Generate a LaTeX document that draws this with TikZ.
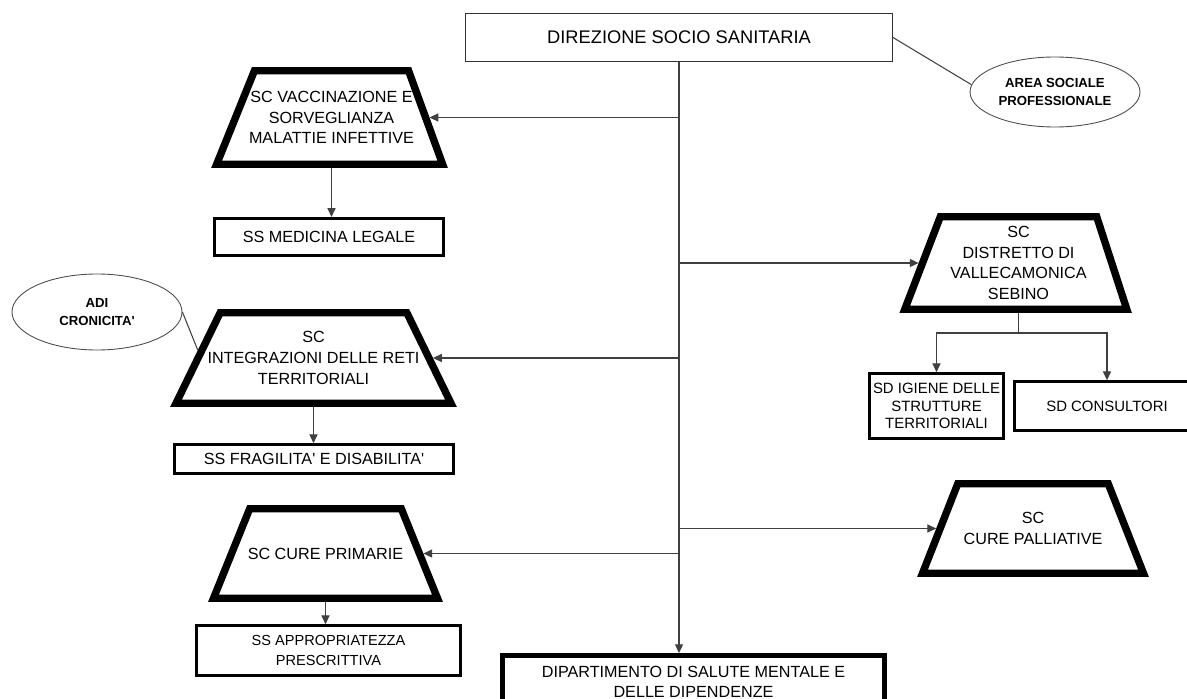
\documentclass[tikz,border=0pt]{standalone}
\usepackage{fontspec}
\setmainfont{Liberation Sans}
\usetikzlibrary{shapes.geometric,arrows.meta,calc}

\tikzset{
  box/.style={draw, line width=1.5pt, align=center, inner sep=1pt,
    font=\fontsize{9.2}{11.5}\selectfont},
  sdbox/.style={box, font=\fontsize{8.5}{10}\selectfont},
  sc/.style={trapezium, trapezium stretches body, draw, line width=4.2pt, inner sep=0pt,
    text width=0pt, text height=#1, text depth=#1},
  sctext/.style={align=center, inner sep=0pt, font=\fontsize{9.2}{11.8}\selectfont},
  note/.style={ellipse, draw=black!70, line width=0.5pt, align=center, inner sep=0pt,
    font=\bfseries\fontsize{7.5}{10.5}\selectfont},
  link/.style={draw=black!75, line width=0.6pt},
  arr/.style={-{Triangle[length=5pt,width=4.6pt]}}
}

\begin{document}
\begin{tikzpicture}[x=0.02cm,y=-0.02cm]
  \useasboundingbox (0,0) rectangle (1187,699);
  \clip (0,0) rectangle (1187,699);

  % direzione
  \node[box, line width=0.6pt, draw=black!80, minimum width=8.54cm, minimum height=0.96cm,
    font=\fontsize{10.4}{12}\selectfont] (top) at (679,37.5) {DIREZIONE SOCIO SANITARIA};
  \node[note, minimum width=3.4cm, minimum height=1.4cm] (area) at (1055,92) {AREA SOCIALE\\PROFESSIONALE};

  % colonna sinistra
  \node[sc=0.935cm, minimum width=4.52cm, trapezium left angle=68, trapezium right angle=70,
    label={[sctext]center:SC VACCINAZIONE E\\SORVEGLIANZA\\MALATTIE INFETTIVE}] (vacc) at (331.5,117.5) {};
  \node[box, minimum width=4.59cm, minimum height=0.75cm] (medleg) at (329,237) {SS MEDICINA LEGALE};
  \node[sc=0.905cm, minimum width=5.5cm, trapezium left angle=64, trapezium right angle=64,
    label={[sctext]center:SC\\INTEGRAZIONI DELLE RETI\\TERRITORIALI}] (integr) at (313.5,358) {};
  \node[note, minimum width=3.4cm, minimum height=1.52cm] (adi) at (97,312) {ADI\\CRONICITA\textquotesingle};
  \node[box, minimum width=5.58cm, minimum height=0.58cm] (fragil) at (314,459)
    {SS FRAGILITA\textquotesingle{} E DISABILITA\textquotesingle};
  \node[sc=0.895cm, minimum width=4.48cm, trapezium left angle=68, trapezium right angle=68,
    label={[sctext]center:SC CURE PRIMARIE}] (primarie) at (325.5,553.5) {};
  \node[box, minimum width=5.28cm, minimum height=1cm, font=\fontsize{8.3}{11.3}\selectfont] (approp)
    at (328.5,650.5) {SS APPROPRIATEZZA\\PRESCRITTIVA};

  % colonna destra
  \node[sc=0.925cm, minimum width=4.44cm, trapezium left angle=69, trapezium right angle=72,
    label={[sctext]center:SC\\DISTRETTO DI\\VALLECAMONICA\\SEBINO}] (distr) at (1018.5,263) {};
  \node[sdbox, minimum width=2.68cm, minimum height=1.3cm] (igiene) at (936.5,406)
    {SD IGIENE DELLE\\STRUTTURE\\TERRITORIALI};
  \node[sdbox, minimum width=3.7cm, minimum height=0.98cm] (consult) at (1107,406) {SD CONSULTORI};
  \node[sc=0.895cm, minimum width=4.42cm, trapezium left angle=68.5, trapezium right angle=68.5,
    label={[sctext]center:SC\\CURE PALLIATIVE}] (palliat) at (1033,528.5) {};

  % dipartimento
  \node[box, line width=2.8pt, minimum width=7.64cm, minimum height=1.04cm] (dept) at (693.5,681.5)
    {DIPARTIMENTO DI SALUTE MENTALE E\\DELLE DIPENDENZE};

  % collegamenti
  \draw[link, arr] (top.south) -- (top.south |- dept.north);
  \draw[link] (top.east) -- (area.175);
  \draw[link, arr] (top.south |- vacc.east) -- (vacc.east);
  \draw[link, arr] (top.south |- integr.east) -- (integr.east);
  \draw[link, arr] (top.south |- primarie.east) -- (primarie.east);
  \draw[link, arr] (top.south |- distr.west) -- (distr.west);
  \draw[link, arr] (top.south |- palliat.west) -- (palliat.west);

  \draw[link, arr] (vacc.south) -- (vacc.south |- medleg.north);
  \draw[link, arr] (integr.south) -- (integr.south |- fragil.north);
  \draw[link, arr] (primarie.south) -- (primarie.south |- approp.north);
  \draw[link] (adi.east) -- ($(integr.top left corner)!0.42!(integr.bottom left corner)$);

  \coordinate (split) at (1017,333);
  \draw[link] (distr.south) -- (distr.south |- split);
  \draw[link, arr] (distr.south |- split) -| (igiene.north);
  \draw[link, arr] (distr.south |- split) -| (consult.north);
\end{tikzpicture}
\end{document}
